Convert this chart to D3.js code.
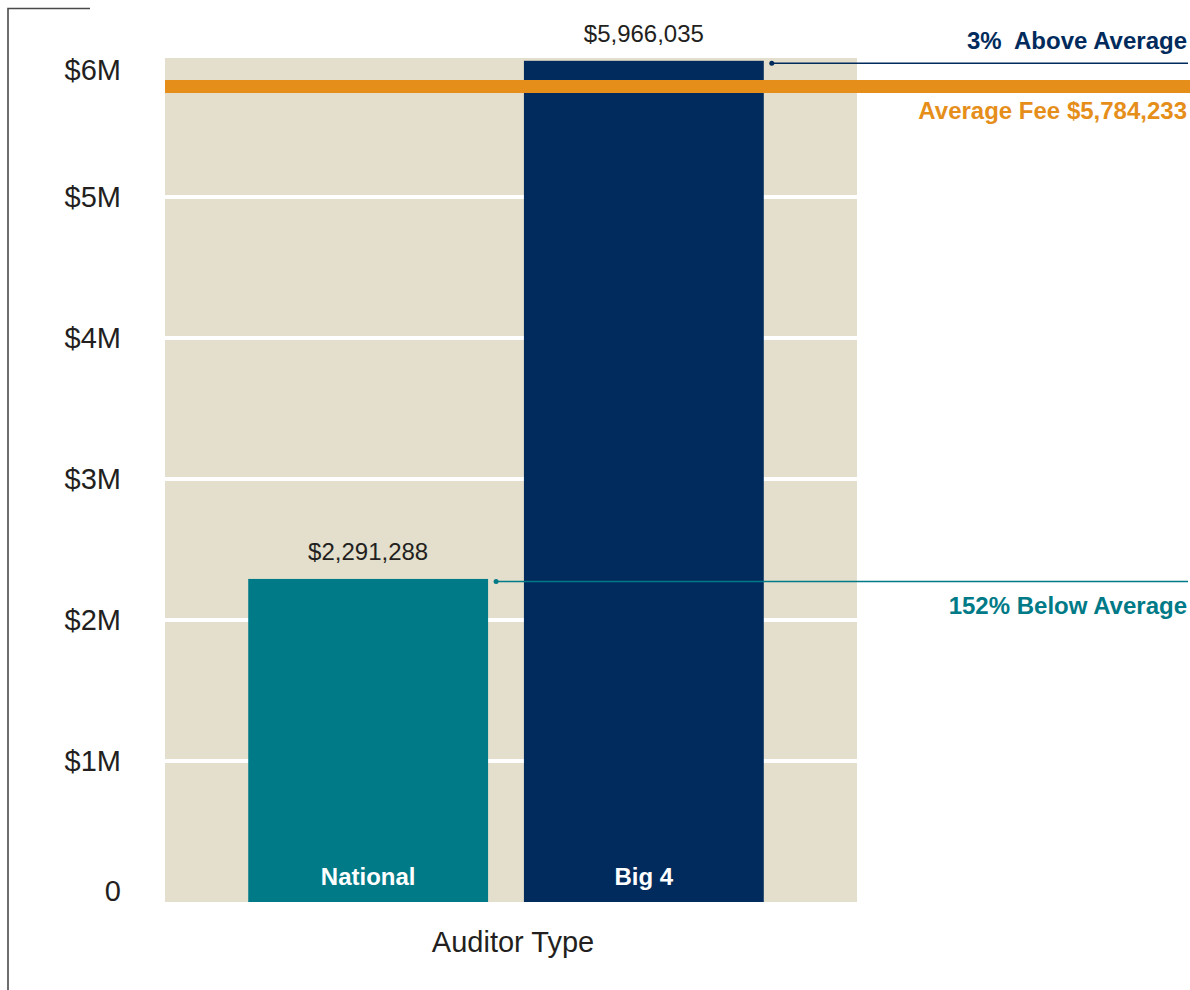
<!DOCTYPE html>
<html>
<head>
<meta charset="utf-8">
<script src="https://cdn.jsdelivr.net/npm/d3@7"></script>
<style>
  body { margin: 0; background: #fff; }
  svg { display: block; font-family: "Liberation Sans", Arial, sans-serif; }
</style>
</head>
<body>
<svg id="chart" width="1190" height="990"></svg>
<script>
// data
const categories = ['National', 'Big 4'];
const fees = [2291288, 5966035];
const barColors = ['#007a87', '#002b5c'];
const averageFee = 5784233;
const yTicks = [0, 1e6, 2e6, 3e6, 4e6, 5e6, 6e6];
const tickLabels = ['0', '$1M', '$2M', '$3M', '$4M', '$5M', '$6M'];
const compareLabels = ['152% Below Average', '3%  Above Average'];

const svg = d3.select('#chart');
const W = 1190;

// plot frame
const plotLeft = 165, plotRight = 857, plotTop = 58, plotBottom = 902;

const y = d3.scaleLinear().domain([0, 6e6]).range([plotBottom, 56]);
const x = d3.scaleBand().domain(categories).range([160, 852])
  .paddingInner(0.13).paddingOuter(0.32);

const fmt = d3.format('$,');

// outer frame line top-left
svg.append('path')
  .attr('d', 'M8,990V8.5H90')
  .attr('fill', 'none')
  .attr('stroke', '#4a4a4a')
  .attr('stroke-width', 1.6);

// beige panel
svg.append('rect')
  .attr('x', plotLeft).attr('y', plotTop)
  .attr('width', plotRight - plotLeft).attr('height', plotBottom - plotTop)
  .attr('fill', '#e4dfcc');

// white gridlines
svg.append('g').selectAll('line')
  .data(yTicks.filter(t => t > 0 && t < 6e6))
  .join('line')
  .attr('x1', plotLeft).attr('x2', plotRight)
  .attr('y1', d => y(d)).attr('y2', d => y(d))
  .attr('stroke', '#fff').attr('stroke-width', 4);

// y tick labels, kept inside the panel at the ends
svg.append('g').selectAll('text')
  .data(yTicks)
  .join('text')
  .attr('x', 121)
  .attr('y', d => Math.min(Math.max(y(d), plotTop + 12), plotBottom - 11))
  .attr('dy', '0.36em')
  .attr('text-anchor', 'end')
  .attr('font-size', 29)
  .attr('fill', '#231f20')
  .text((d, i) => tickLabels[i]);

// bars
const bars = svg.append('g');
bars.selectAll('rect')
  .data(categories)
  .join('rect')
  .attr('x', d => x(d))
  .attr('y', (d, i) => y(fees[i]))
  .attr('width', x.bandwidth())
  .attr('height', (d, i) => y(0) - y(fees[i]))
  .attr('fill', (d, i) => barColors[i]);

// value labels
svg.append('g').selectAll('text')
  .data(categories)
  .join('text')
  .attr('x', d => x(d) + x.bandwidth() / 2)
  .attr('y', (d, i) => y(fees[i]) - 19)
  .attr('text-anchor', 'middle')
  .attr('font-size', 24)
  .attr('fill', '#231f20')
  .text((d, i) => fmt(fees[i]));

// category names inside bars
svg.append('g').selectAll('text')
  .data(categories)
  .join('text')
  .attr('x', d => x(d) + x.bandwidth() / 2)
  .attr('y', 885)
  .attr('text-anchor', 'middle')
  .attr('font-size', 24)
  .attr('font-weight', 'bold')
  .attr('fill', '#fff')
  .text(d => d);

// leader lines from each bar top to the right edge
categories.forEach((c, i) => {
  const ly = y(fees[i]) + 2.5;
  const lx = x(c) + x.bandwidth() + 8;
  svg.append('line')
    .attr('x1', lx).attr('x2', 1188)
    .attr('y1', ly).attr('y2', ly)
    .attr('stroke', barColors[i]).attr('stroke-width', 1.5);
  svg.append('circle')
    .attr('cx', lx).attr('cy', ly).attr('r', 2.5)
    .attr('fill', barColors[i]);
  svg.append('text')
    .attr('x', 1187)
    .attr('y', fees[i] > averageFee ? ly - 14 : ly + 33)
    .attr('text-anchor', 'end')
    .attr('font-size', 24)
    .attr('font-weight', 'bold')
    .attr('fill', barColors[i])
    .style('white-space', 'pre')
    .text(compareLabels[i]);
});

// average line
svg.append('line')
  .attr('x1', plotLeft).attr('x2', W)
  .attr('y1', y(averageFee)).attr('y2', y(averageFee))
  .attr('stroke', '#e58e1a').attr('stroke-width', 13);

svg.append('text')
  .attr('x', 1187)
  .attr('y', y(averageFee) + 33)
  .attr('text-anchor', 'end')
  .attr('font-size', 24)
  .attr('font-weight', 'bold')
  .attr('fill', '#e58e1a')
  .text('Average Fee ' + fmt(averageFee));

// x axis title
svg.append('text')
  .attr('x', (plotLeft + plotRight) / 2 + 2)
  .attr('y', 952)
  .attr('text-anchor', 'middle')
  .attr('font-size', 29)
  .attr('fill', '#231f20')
  .text('Auditor Type');
</script>
</body>
</html>
